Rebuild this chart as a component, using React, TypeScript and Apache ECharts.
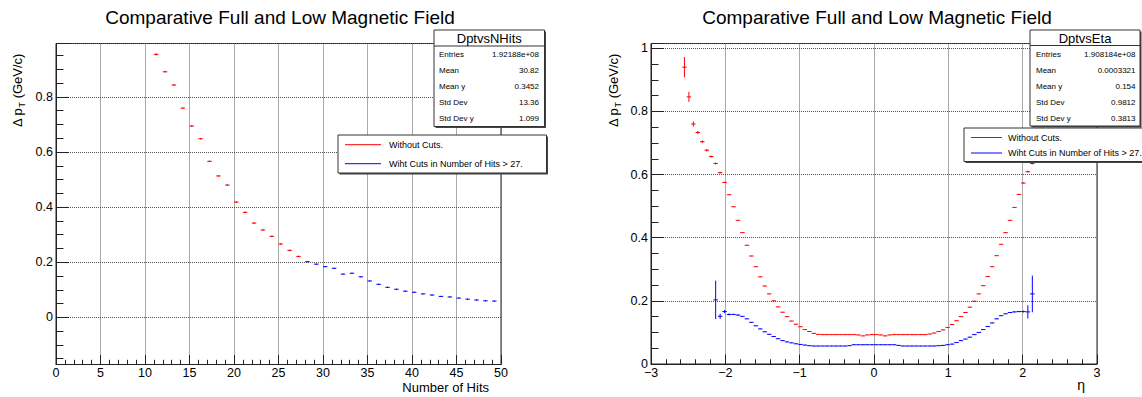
import React, { useEffect, useRef } from "react";
import * as echarts from "echarts";

const FONT = '"Liberation Sans", Arial, Helvetica, sans-serif';
const RED = "#ff0000";
const BLUE = "#0000ff";

// ---- Left panel: Delta pT vs Number of Hits (bin centres, bins of 0.5) ----
const hitsRedBins = [11.25, 12.25, 13.25, 14.25, 15.25, 16.25, 17.25, 18.25, 19.25, 20.25, 21.25, 22.25, 23.25, 24.25, 25.25, 26.25, 27.25];
const hitsRedValues = [0.954, 0.891, 0.843, 0.759, 0.694, 0.648, 0.566, 0.513, 0.48, 0.418, 0.381, 0.342, 0.317, 0.294, 0.266, 0.243, 0.221];
const hitsRedErrors = [0.004, 0.003, 0.003, 0.003, 0.003, 0.003, 0.003, 0.003, 0.003, 0.003, 0.003, 0.003, 0.003, 0.003, 0.003, 0.003, 0.003];
const hitsBlueBins = [28.25, 29.25, 30.25, 31.25, 32.25, 33.25, 34.25, 35.25, 36.25, 37.25, 38.25, 39.25, 40.25, 41.25, 42.25, 43.25, 44.25, 45.25, 46.25, 47.25, 48.25, 49.25];
const hitsBlueValues = [0.202, 0.193, 0.184, 0.178, 0.157, 0.16, 0.147, 0.132, 0.12, 0.109, 0.102, 0.095, 0.091, 0.085, 0.081, 0.076, 0.074, 0.07, 0.066, 0.063, 0.06, 0.059];
const hitsBlueErrors = [0.002, 0.002, 0.002, 0.002, 0.002, 0.002, 0.002, 0.002, 0.002, 0.002, 0.002, 0.002, 0.002, 0.002, 0.002, 0.002, 0.002, 0.002, 0.002, 0.002, 0.002, 0.002];

// ---- Right panel: Delta pT vs eta (bin centres, bins of 0.06) ----
const etaBins = [
  -2.55, -2.49, -2.43, -2.37, -2.31, -2.25, -2.19, -2.13, -2.07, -2.01,
  -1.95, -1.89, -1.83, -1.77, -1.71, -1.65, -1.59, -1.53, -1.47, -1.41,
  -1.35, -1.29, -1.23, -1.17, -1.11, -1.05, -0.99, -0.93, -0.87, -0.81,
  -0.75, -0.69, -0.63, -0.57, -0.51, -0.45, -0.39, -0.33, -0.27, -0.21,
  -0.15, -0.09, -0.03, 0.03, 0.09, 0.15, 0.21, 0.27, 0.33, 0.39,
  0.45, 0.51, 0.57, 0.63, 0.69, 0.75, 0.81, 0.87, 0.93, 0.99,
  1.05, 1.11, 1.17, 1.23, 1.29, 1.35, 1.41, 1.47, 1.53, 1.59,
  1.65, 1.71, 1.77, 1.83, 1.89, 1.95, 2.01, 2.07, 2.13, 2.19,
  2.25, 2.31, 2.37, 2.43, 2.49, 2.55,
];
const etaRedValues = [
  0.94, 0.846, 0.76, 0.733, 0.704, 0.677, 0.657, 0.635, 0.606, 0.575,
  0.536, 0.498, 0.455, 0.416, 0.376, 0.342, 0.308, 0.276, 0.247, 0.222,
  0.2, 0.181, 0.164, 0.15, 0.136, 0.126, 0.118, 0.109, 0.103, 0.097,
  0.094, 0.093, 0.093, 0.093, 0.093, 0.093, 0.093, 0.093, 0.093, 0.092,
  0.089, 0.092, 0.093, 0.093, 0.092, 0.089, 0.092, 0.093, 0.093, 0.093,
  0.093, 0.093, 0.093, 0.093, 0.093, 0.095, 0.098, 0.103, 0.108, 0.116,
  0.125, 0.137, 0.15, 0.163, 0.18, 0.199, 0.222, 0.248, 0.277, 0.308,
  0.343, 0.379, 0.416, 0.455, 0.496, 0.537, 0.573, 0.609, 0.635, 0.658,
  0.679, 0.705, 0.735, 0.762, 0.85, 0.93,
];
const etaRedErrors = [
  0.032, 0.016, 0.008, 0.005, 0.004, 0.004, 0.003, 0.003, 0.003, 0.002,
  0.001, 0.001, 0.001, 0.001, 0.001, 0.001, 0.001, 0.001, 0.001, 0.001,
  0.001, 0.001, 0.001, 0.001, 0.001, 0.001, 0.001, 0.001, 0.001, 0.001,
  0.001, 0.001, 0.001, 0.001, 0.001, 0.001, 0.001, 0.001, 0.001, 0.001,
  0.001, 0.001, 0.001, 0.001, 0.001, 0.001, 0.001, 0.001, 0.001, 0.001,
  0.001, 0.001, 0.001, 0.001, 0.001, 0.001, 0.001, 0.001, 0.001, 0.001,
  0.001, 0.001, 0.001, 0.001, 0.001, 0.001, 0.001, 0.001, 0.001, 0.001,
  0.001, 0.001, 0.001, 0.001, 0.001, 0.001, 0.002, 0.003, 0.003, 0.003,
  0.004, 0.004, 0.005, 0.008, 0.016, 0.032,
];
const etaBlueValues = [
  null, null, null, null, null, null, null, 0.203, 0.151, 0.166,
  0.157, 0.157, 0.155, 0.151, 0.143, 0.132, 0.121, 0.111, 0.102, 0.094,
  0.087, 0.08, 0.074, 0.07, 0.067, 0.064, 0.062, 0.06, 0.058, 0.057,
  0.057, 0.057, 0.057, 0.057, 0.057, 0.057, 0.057, 0.058, 0.061, 0.061,
  0.061, 0.061, 0.061, 0.061, 0.061, 0.061, 0.061, 0.061, 0.059, 0.057,
  0.057, 0.057, 0.057, 0.057, 0.057, 0.057, 0.057, 0.058, 0.059, 0.061,
  0.063, 0.068, 0.074, 0.079, 0.085, 0.093, 0.1, 0.109, 0.119, 0.13,
  0.143, 0.153, 0.159, 0.163, 0.165, 0.166, 0.166, 0.165, 0.222, null,
  null, null, null, null, null, null,
];
const etaBlueErrors = [
  0, 0, 0, 0, 0, 0, 0, 0.061, 0.008, 0.005,
  0.003, 0.002, 0.002, 0.001, 0.001, 0.001, 0.001, 0.001, 0.001, 0.001,
  0.001, 0.001, 0.001, 0.001, 0.001, 0.001, 0.001, 0.001, 0.001, 0.001,
  0.001, 0.001, 0.001, 0.001, 0.001, 0.001, 0.001, 0.001, 0.001, 0.001,
  0.001, 0.001, 0.001, 0.001, 0.001, 0.001, 0.001, 0.001, 0.001, 0.001,
  0.001, 0.001, 0.001, 0.001, 0.001, 0.001, 0.001, 0.001, 0.001, 0.001,
  0.001, 0.001, 0.001, 0.001, 0.001, 0.001, 0.001, 0.001, 0.001, 0.001,
  0.001, 0.001, 0.001, 0.001, 0.002, 0.002, 0.003, 0.021, 0.058, 0,
  0, 0, 0, 0, 0, 0,
];

const titleText = "Comparative Full and Low Magnetic Field";
const legendLabels = ["Without Cuts.", "Wiht Cuts in Number of Hits > 27."];
const statsHitsTitle = "DptvsNHits";
const statsHitsNames = ["Entries", "Mean", "Mean y", "Std Dev", "Std Dev y"];
const statsHitsValues = ["1.92188e+08", "30.82", "0.3452", "13.36", "1.099"];
const statsEtaTitle = "DptvsEta";
const statsEtaNames = ["Entries", "Mean", "Mean y", "Std Dev", "Std Dev y"];
const statsEtaValues = ["1.908184e+08", "0.0003321", "0.154", "0.9812", "0.3813"];

function makeRender(halfWidth: number, color: string) {
  return (_params: any, api: any) => {
    const x = api.value(0);
    const y = api.value(1);
    const e = api.value(2);
    const a = api.coord([x - halfWidth, y]);
    const b = api.coord([x + halfWidth, y]);
    const children: any[] = [
      { type: "line", shape: { x1: a[0], y1: a[1], x2: b[0], y2: b[1] }, style: { stroke: color, lineWidth: 1 } },
    ];
    if (e > 0) {
      const lo = api.coord([x, y - e]);
      const hi = api.coord([x, y + e]);
      children.push({ type: "line", shape: { x1: lo[0], y1: lo[1], x2: hi[0], y2: hi[1] }, style: { stroke: color, lineWidth: 1 } });
    }
    return { type: "group", children };
  };
}

function txt(x: number, y: number, text: string, size: number, align: string, vAlign = "middle", extra: any = {}) {
  return {
    type: "text",
    x,
    y,
    z: 100,
    silent: true,
    ...extra,
    style: {
      text,
      fontSize: size,
      fontFamily: FONT,
      fill: "#000",
      textAlign: align,
      align,
      textVerticalAlign: vAlign,
      verticalAlign: vAlign,
    },
  };
}

function box(x: number, y: number, w: number, h: number) {
  return [
    { type: "rect", z: 99, silent: true, shape: { x: x + 1.5, y: y + 1.5, width: w, height: h }, style: { fill: "#444" } },
    { type: "rect", z: 100, silent: true, shape: { x, y, width: w, height: h }, style: { fill: "#fff", stroke: "#333", lineWidth: 1 } },
  ];
}

function statBox(x: number, y: number, w: number, h: number, headerY: number, title: string, names: string[], values: string[], rowYs: number[], leftPad: number, rightPad: number) {
  const els: any[] = [...box(x, y, w, h)];
  els.push({ type: "line", z: 100, silent: true, shape: { x1: x, y1: headerY, x2: x + w, y2: headerY }, style: { stroke: "#333", lineWidth: 1 } });
  els.push(txt(x + w / 2, (y + headerY) / 2 + 0.5, title, 13, "center"));
  names.forEach((n, i) => {
    els.push(txt(x + leftPad, rowYs[i], n, 8, "left"));
    els.push(txt(x + w - rightPad, rowYs[i], values[i], 8, "right"));
  });
  return els;
}

function legendBox(x: number, y: number, w: number, h: number, rowYs: number[], lineX1: number, lineX2: number, textX: number) {
  const els: any[] = [...box(x, y, w, h)];
  const colors = [RED, BLUE];
  legendLabels.forEach((l, i) => {
    els.push({ type: "line", z: 101, silent: true, shape: { x1: lineX1, y1: rowYs[i], x2: lineX2, y2: rowYs[i] }, style: { stroke: colors[i], lineWidth: 1 } });
    els.push(txt(textX, rowYs[i], l, 9, "left"));
  });
  return els;
}

function yTitle(x: number, y: number) {
  return {
    type: "text",
    x,
    y,
    z: 100,
    silent: true,
    rotation: Math.PI / 2,
    style: {
      text: "{a|Δ p}{t|T}{a| (GeV/c)}",
      fontFamily: FONT,
      fontSize: 13,
      fill: "#000",
      textAlign: "left",
      align: "left",
      textVerticalAlign: "middle",
      verticalAlign: "middle",
      rich: {
        a: { fontSize: 13, lineHeight: 18, fontFamily: FONT, fill: "#000", color: "#000", verticalAlign: "middle" },
        t: { fontSize: 9, lineHeight: 9, fontFamily: FONT, fill: "#000", color: "#000", verticalAlign: "bottom" },
      },
    },
  };
}

function fmtTenth(v: number) {
  const q = v / 0.2;
  if (Math.abs(q - Math.round(q)) > 1e-6) return "";
  return String((Math.round(q) * 2) / 10);
}

function fmtSigned(v: number) {
  const r = Math.round(v * 100) / 100;
  return r < 0 ? "\u2212" + String(-r) : String(r);
}

function xAxisCfg(gridIndex: number, min: number, max: number, interval: number) {
  return {
    type: "value",
    gridIndex,
    min,
    max,
    interval,
    axisLine: { show: true, onZero: false, lineStyle: { color: "#222", width: 1 } },
    axisTick: { show: true, inside: true, length: 9.5, lineStyle: { color: "#222", width: 1 } },
    minorTick: { show: true, splitNumber: 5, length: 4.7, lineStyle: { color: "#222", width: 1 } },
    splitLine: { show: true, lineStyle: { color: "#555", type: "dotted", width: 1 } },
    minorSplitLine: { show: false },
    axisLabel: { show: true, color: "#000", fontSize: 12.5, fontFamily: FONT, margin: 2, formatter: fmtSigned },
  };
}

function yAxisCfg(gridIndex: number, min: number, max: number, interval?: number) {
  const cfg: any = {
    type: "value",
    gridIndex,
    min,
    max,
    axisLine: { show: true, onZero: false, lineStyle: { color: "#222", width: 1 } },
    axisTick: { show: true, inside: true, length: 13, lineStyle: { color: "#222", width: 1 } },
    minorTick: { show: true, splitNumber: 4, length: 7.5, lineStyle: { color: "#222", width: 1 } },
    splitLine: { show: true, lineStyle: { color: "#555", type: "dotted", width: 1 } },
    minorSplitLine: { show: false },
    axisLabel: { show: true, color: "#000", fontSize: 12.5, fontFamily: FONT, margin: 3, formatter: fmtTenth, showMinLabel: true, showMaxLabel: false },
  };
  if (interval !== undefined) cfg.interval = interval;
  else cfg.splitNumber = 5;
  return cfg;
}

export default function App() {
  const ref = useRef<HTMLDivElement>(null);

  useEffect(() => {
    if (!ref.current) return;
    const chart = echarts.init(ref.current, undefined, { renderer: "svg" });

    const graphics: any[] = [
      txt(280, 17, titleText, 19, "center"),
      txt(877, 17, titleText, 19, "center"),
      txt(489, 387.5, "Number of Hits", 13, "right"),
      txt(1085, 385, "η", 14, "right"),
      yTitle(17, 127),
      yTitle(613, 127),
      ...statBox(434, 30, 110.5, 96.5, 46, statsHitsTitle, statsHitsNames, statsHitsValues, [54, 70, 86, 102, 118], 5, 5.5),
      ...legendBox(338, 135, 208.5, 38, [144.7, 163.7], 345, 381, 389),
      ...statBox(1030, 30, 110, 96, 45.5, statsEtaTitle, statsEtaNames, statsEtaValues, [54, 70, 86, 102, 118], 6, 4.5),
      ...legendBox(964, 128, 190, 33.5, [137.5, 153], 971, 1002, 1008),
    ];

    const blueEtaData: any[] = [];
    etaBins.forEach((x, i) => {
      if (etaBlueValues[i] !== null) blueEtaData.push([x, etaBlueValues[i], etaBlueErrors[i]]);
    });

    chart.setOption({
      animation: false,
      backgroundColor: "#fff",
      textStyle: { fontFamily: FONT },
      grid: [
        { left: 56, top: 43.5, width: 445, height: 321, show: true, borderColor: "#222", borderWidth: 1, backgroundColor: "transparent", containLabel: false, outerBoundsMode: "none" },
        { left: 651, top: 43.5, width: 446, height: 320.5, show: true, borderColor: "#222", borderWidth: 1, backgroundColor: "transparent", containLabel: false, outerBoundsMode: "none" },
      ],
      xAxis: [xAxisCfg(0, 0, 50, 5), xAxisCfg(1, -3, 3, 1)],
      yAxis: [yAxisCfg(0, -0.171, 0.9935), yAxisCfg(1, 0, 1.015, 0.2)],
      series: [
        {
          type: "custom",
          xAxisIndex: 0,
          yAxisIndex: 0,
          silent: true,
          clip: true,
          z: 3,
          renderItem: makeRender(0.25, RED),
          data: hitsRedBins.map((x, i) => [x, hitsRedValues[i], hitsRedErrors[i]]),
        },
        {
          type: "custom",
          xAxisIndex: 0,
          yAxisIndex: 0,
          silent: true,
          clip: true,
          z: 4,
          renderItem: makeRender(0.25, BLUE),
          data: hitsBlueBins.map((x, i) => [x, hitsBlueValues[i], hitsBlueErrors[i]]),
        },
        {
          type: "custom",
          xAxisIndex: 1,
          yAxisIndex: 1,
          silent: true,
          clip: true,
          z: 3,
          renderItem: makeRender(0.03, RED),
          data: etaBins.map((x, i) => [x, etaRedValues[i], etaRedErrors[i]]),
        },
        {
          type: "custom",
          xAxisIndex: 1,
          yAxisIndex: 1,
          silent: true,
          clip: true,
          z: 4,
          renderItem: makeRender(0.03, BLUE),
          data: blueEtaData,
        },
      ],
      graphic: { elements: graphics },
    });

    return () => {
      chart.dispose();
    };
  }, []);

  return (
    <div
      ref={ref}
      style={{ position: "fixed", left: 0, top: 0, width: 1142, height: 397, background: "#fff" }}
    />
  );
}
